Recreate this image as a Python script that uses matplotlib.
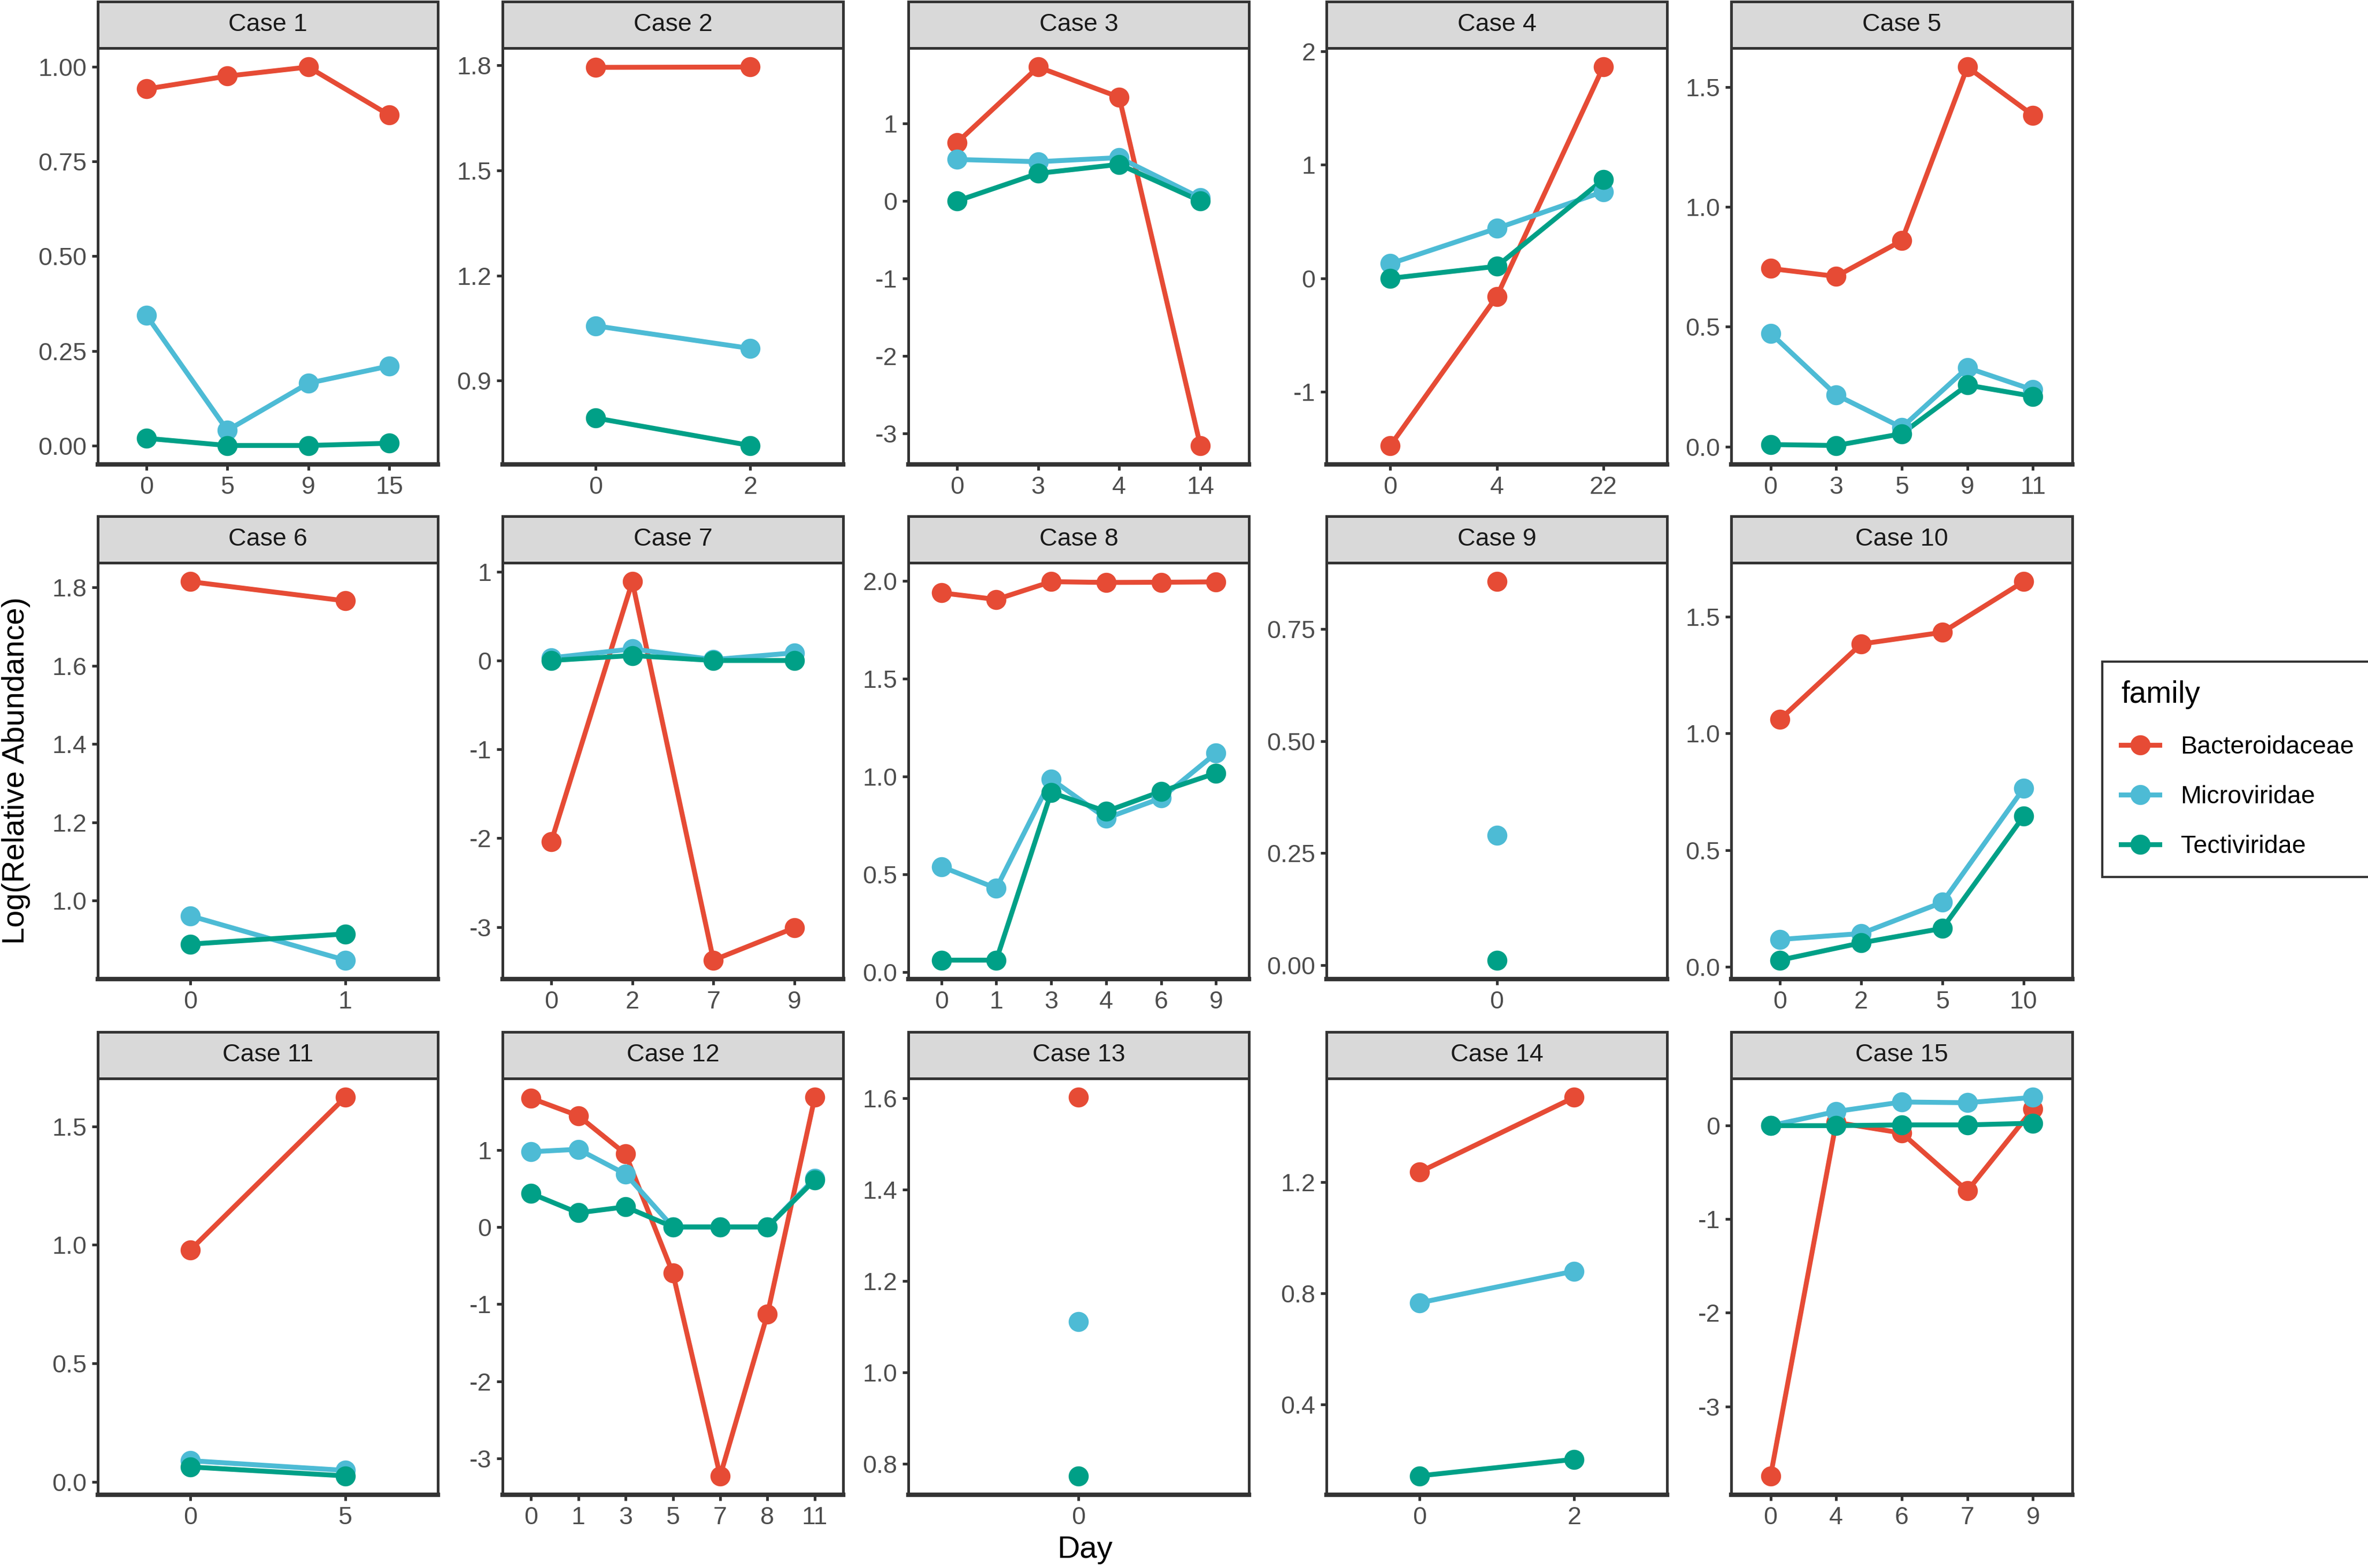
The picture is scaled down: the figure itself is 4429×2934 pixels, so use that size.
import matplotlib
matplotlib.use("Agg")
import matplotlib.pyplot as plt
from matplotlib.lines import Line2D

plt.rcParams["font.family"] = ["Liberation Sans", "DejaVu Sans"]

# ---- data ----
cases = [f"Case {i}" for i in range(1, 16)]
families = ["Bacteroidaceae", "Microviridae", "Tectiviridae"]
family_colors = ["#E64B35", "#4DBBD5", "#00A087"]

days = [
    ["0", "5", "9", "15"],
    ["0", "2"],
    ["0", "3", "4", "14"],
    ["0", "4", "22"],
    ["0", "3", "5", "9", "11"],
    ["0", "1"],
    ["0", "2", "7", "9"],
    ["0", "1", "3", "4", "6", "9"],
    ["0"],
    ["0", "2", "5", "10"],
    ["0", "5"],
    ["0", "1", "3", "5", "7", "8", "11"],
    ["0"],
    ["0", "2"],
    ["0", "4", "6", "7", "9"],
]

bacteroidaceae = [
    [0.942, 0.976, 1.000, 0.873],
    [1.794, 1.795],
    [0.754, 1.730, 1.340, -3.158],
    [-1.473, -0.160, 1.862],
    [0.743, 0.710, 0.859, 1.583, 1.382],
    [1.815, 1.766],
    [-2.038, 0.887, -3.372, -3.008],
    [1.940, 1.906, 1.997, 1.993, 1.994, 1.996],
    [0.856],
    [1.060, 1.383, 1.433, 1.650],
    [0.979, 1.622],
    [1.670, 1.442, 0.947, -0.600, -3.227, -1.130, 1.680],
    [1.6015],
    [1.236, 1.505],
    [-3.743, 0.035, -0.079, -0.697, 0.177],
]

microviridae = [
    [0.344, 0.040, 0.1645, 0.210],
    [1.0565, 0.992],
    [0.536, 0.507, 0.560, 0.040],
    [0.129, 0.440, 0.764],
    [0.473, 0.216, 0.080, 0.329, 0.237],
    [0.961, 0.848],
    [0.030, 0.130, 0.010, 0.086],
    [0.540, 0.429, 0.987, 0.787, 0.890, 1.120],
    [0.2896],
    [0.1175, 0.143, 0.2765, 0.764],
    [0.089, 0.048],
    [0.975, 1.007, 0.686, 0.0, 0.0, 0.0, 0.630],
    [1.111],
    [0.766, 0.880],
    [0.0, 0.151, 0.253, 0.245, 0.302],
]

tectiviridae = [
    [0.019, 0.0, 0.0, 0.006],
    [0.7935, 0.715],
    [0.0, 0.356, 0.473, 0.0],
    [0.0, 0.106, 0.869],
    [0.009, 0.005, 0.054, 0.257, 0.210],
    [0.889, 0.915],
    [0.0, 0.056, 0.0, 0.0],
    [0.0615, 0.0615, 0.919, 0.822, 0.924, 1.018],
    [0.011],
    [0.029, 0.103, 0.165, 0.645],
    [0.0626, 0.025],
    [0.435, 0.183, 0.261, 0.0, 0.0, 0.0, 0.609],
    [0.773],
    [0.1435, 0.203],
    [0.0, 0.0, 0.008, 0.008, 0.026],
]

y_breaks = [
    [0.00, 0.25, 0.50, 0.75, 1.00],
    [0.9, 1.2, 1.5, 1.8],
    [-3, -2, -1, 0, 1],
    [-1, 0, 1, 2],
    [0.0, 0.5, 1.0, 1.5],
    [1.0, 1.2, 1.4, 1.6, 1.8],
    [-3, -2, -1, 0, 1],
    [0.0, 0.5, 1.0, 1.5, 2.0],
    [0.00, 0.25, 0.50, 0.75],
    [0.0, 0.5, 1.0, 1.5],
    [0.0, 0.5, 1.0, 1.5],
    [-3, -2, -1, 0, 1],
    [0.8, 1.0, 1.2, 1.4, 1.6],
    [0.4, 0.8, 1.2],
    [-3, -2, -1, 0],
]

# ---- layout (pixels of the 4429x2934 output) ----
W, H = 4429, 2934
DPI = 300
col_edges = [(183, 819), (940, 1577), (1699, 2336), (2481, 3118), (3238, 3876)]
row_tops = [3, 966, 1931]
STRIP_H = 87
PANEL_H = 779

INK = "#333333"
TICK_TXT = "#4D4D4D"
LW = 2.2
MS = 9


def rect(l, t, r, b):
    return [l / W, 1 - b / H, (r - l) / W, (b - t) / H]


def fmt_breaks(vals):
    for d in range(0, 4):
        if all(abs(round(v, d) - v) < 1e-9 for v in vals):
            return [f"{v:.{d}f}" for v in vals]
    return [f"{v:.2f}" for v in vals]


fig = plt.figure(figsize=(W / DPI, H / DPI), dpi=DPI, facecolor="white")

series = [bacteroidaceae, microviridae, tectiviridae]

for k, case in enumerate(cases):
    r, c = divmod(k, 5)
    l, rr = col_edges[c]
    top = row_tops[r]

    # strip
    sax = fig.add_axes(rect(l, top, rr, top + STRIP_H))
    sax.set_facecolor("#D9D9D9")
    sax.set_xticks([])
    sax.set_yticks([])
    for sp in sax.spines.values():
        sp.set_visible(True)
        sp.set_color(INK)
        sp.set_linewidth(1.2)
    sax.text(0.5, 0.5, case, ha="center", va="center", fontsize=11.2,
             color="#1A1A1A", transform=sax.transAxes)

    # panel
    ax = fig.add_axes(rect(l, top + STRIP_H, rr, top + STRIP_H + PANEL_H))
    x = list(range(len(days[k])))
    for fam, col in zip(series, family_colors):
        ax.plot(x, fam[k], color=col, lw=LW, zorder=2, solid_capstyle="butt")
    for fam, col in zip(series, family_colors):
        ax.plot(x, fam[k], "o", color=col, ms=MS, mec="none", zorder=3)

    ax.set_xlim(-0.6, len(x) - 1 + 0.6)
    ax.margins(y=0.05)
    ax.set_xticks(x)
    ax.set_xticklabels(days[k])
    ax.set_yticks(y_breaks[k])
    ax.set_yticklabels(fmt_breaks(y_breaks[k]))
    ax.tick_params(axis="both", length=2.75, width=1.2,
                   color=INK, labelcolor=TICK_TXT, labelsize=11.2, pad=2.2)
    ax.grid(False)
    for name, sp in ax.spines.items():
        sp.set_visible(True)
        sp.set_color(INK)
        sp.set_linewidth(2.0 if name == "bottom" else 1.2)
        sp.set_zorder(5)

# axis titles
fig.text(2029 / W, 1 - 2900 / H, "Day", ha="center", va="center", fontsize=14, color="black")
fig.text(30 / W, 1 - 1442 / H, "Log(Relative Abundance)", ha="center", va="center",
         rotation=90, fontsize=13.9, color="black")

# legend
handles = [Line2D([0], [0], color=col, lw=LW, marker="o", ms=MS, mec="none")
           for col in family_colors]
leg = fig.legend(handles, families, loc="upper left",
                 bbox_to_anchor=(3932 / W, 1 - 1238 / H), borderaxespad=0,
                 title="family", alignment="left", fontsize=11.2, title_fontsize=13.6,
                 frameon=True, fancybox=False, edgecolor="black",
                 handlelength=1.55, labelspacing=1.05, borderpad=0.75, handletextpad=0.84)
leg.get_frame().set_linewidth(1.0)

fig.savefig("out.png", dpi=DPI, facecolor="white")
